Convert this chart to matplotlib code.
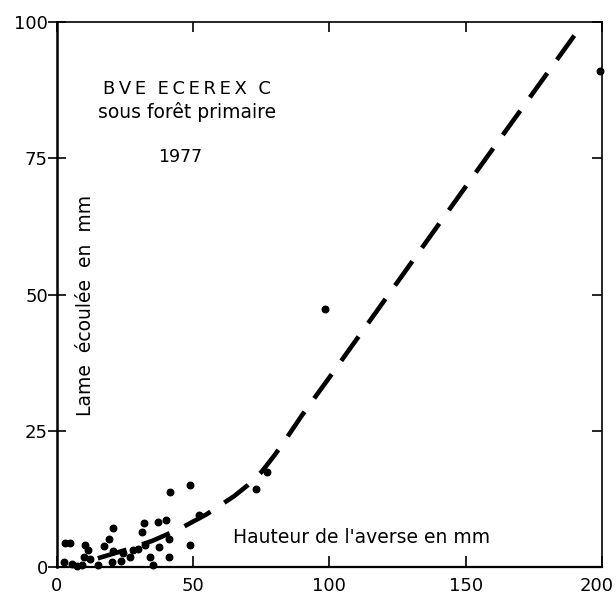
#!/usr/bin/env python
# -*- coding: utf-8 -*-
"""
Lame ecoulee vs hauteur de l'averse, BVE ECEREX C, 1977.
"""
import matplotlib
matplotlib.use("Agg")
import matplotlib.pyplot as plt
from matplotlib.lines import TICKLEFT
from matplotlib.transforms import ScaledTranslation

Rain = [2.9, 4.8, 2.6, 5.5, 7.4, 9.2, 10.3, 11.4, 9.9, 12.1, 15.1, 17.3, 19.1,
        20.6, 20.6, 20.2, 23.5, 24.3, 26.8, 27.9, 29.8, 32.4, 31.3, 32.0, 34.2,
        35.3, 37.5, 37.1, 40.1, 41.2, 41.5, 41.2, 48.9, 48.9, 52.2, 73.2, 77.2,
        98.2, 199.5]
Runoff = [4.4, 4.4, 0.9, 0.5, 0.2, 0.4, 4.0, 3.1, 1.8, 1.5, 0.4, 3.9, 5.1,
          7.2, 3.0, 0.9, 1.1, 2.6, 1.8, 3.1, 3.3, 4.1, 6.4, 8.1, 1.8,
          0.4, 3.7, 8.3, 8.7, 5.1, 13.8, 1.8, 15.1, 4.0, 9.6, 14.4, 17.5,
          47.3, 91.0]

# Fitted curve
CurveX = [15, 25, 35, 45, 55, 65, 70, 75, 80, 85, 90, 100, 150, 192]
CurveY = [1.6, 3.1, 4.8, 7.0, 9.7, 13.0, 15.0, 17.4, 20.6, 24.2, 27.9, 34.8, 69.8, 99.0]

XTicks = [0, 50, 100, 150, 200]
YTicks = [0, 25, 50, 75, 100]

plt.rcParams['font.family'] = ['DejaVu Sans']

fig = plt.figure(figsize=(6.16, 5.99), dpi=100)
ax = fig.add_axes([0.0925, 0.0534, 0.8845, 0.9096])

ax.plot(CurveX, CurveY, color='black', linewidth=3.3, dashes=(6.5, 3.6),
        dash_capstyle='butt', solid_capstyle='butt')
ax.scatter(Rain, Runoff, s=22, color='black', zorder=3, clip_on=False)

ax.set_xlim(0, 200)
ax.set_ylim(0, 100)

# Ticks: crossing on left, inward elsewhere
ax.set_xticks(XTicks)
ax.set_yticks(YTicks)
ax.tick_params(axis='y', which='both', direction='inout', length=13, width=1.2,
               labelsize=13, pad=0, right=True)
ax.tick_params(axis='x', which='both', direction='in', length=8, width=1.2,
               labelsize=13, pad=7, top=True)
for t in ax.yaxis.get_major_ticks():
    t.tick2line.set_marker(TICKLEFT)
    t.tick2line.set_markersize(7)
for t in ax.xaxis.get_major_ticks():
    t.tick2line.set_markersize(7)

# Pull the last x label in so it stays on the page
fig.canvas.draw()
lbl = ax.get_xticklabels()[-1]
lbl.set_transform(lbl.get_transform() + ScaledTranslation(-4 / 72, 0, fig.dpi_scale_trans))

ax.spines['left'].set_linewidth(1.8)
ax.spines['bottom'].set_linewidth(1.6)
ax.spines['top'].set_linewidth(1.2)
ax.spines['right'].set_linewidth(1.2)

# Annotations
ts = "\u2009"
ax.text(47.7, 87.8, ts.join("BVE") + "  " + ts.join("ECEREX") + "  C",
        ha='center', va='center', fontsize=13)
ax.text(47.7, 83.6, "sous forêt primaire", ha='center', va='center', fontsize=13.5)
ax.text(45.2, 75.3, "1977", ha='center', va='center', fontsize=12.5)
ax.text(10.3, 48, "Lame  écoulée  en  mm", ha='center', va='center',
        rotation=90, fontsize=13.5)
ax.text(111.8, 5.5, "Hauteur de l'averse en mm", ha='center', va='center',
        fontsize=13.5)

fig.savefig("out.png", dpi=100)
